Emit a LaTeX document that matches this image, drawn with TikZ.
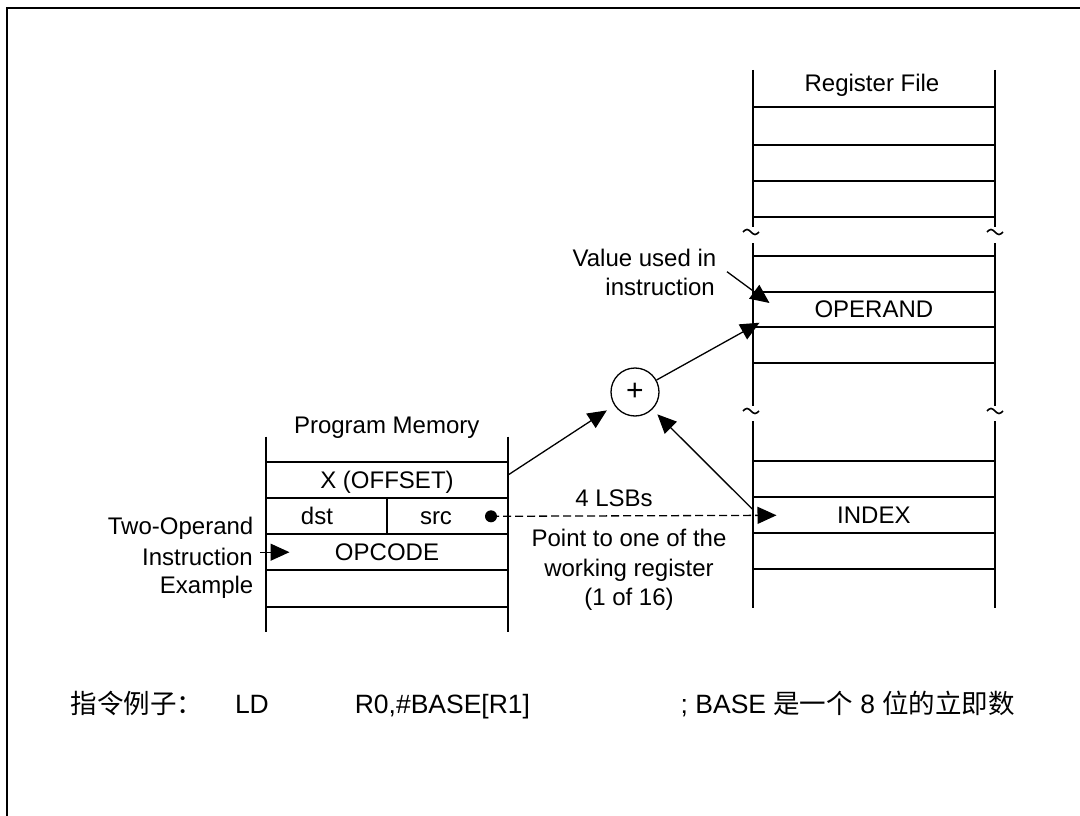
\documentclass[tikz,border=0pt]{standalone}
\usepackage{fontspec}
\setmainfont{Liberation Sans}
\newfontfamily\cjk{Noto Sans CJK SC}
\usetikzlibrary{arrows.meta}
\begin{document}
\begin{tikzpicture}[x=1pt,y=-1pt,
  tbl/.style={line width=2pt},
  conn/.style={line width=1.3pt},
  lbl/.style={font=\fontsize{24}{28}\selectfont, inner sep=0pt},
  cell/.style={lbl, minimum height=36pt, text height=17pt, text depth=0pt},
  arr/.style={-{Triangle[length=19pt,width=17pt]}},
  btm/.style={anchor=base west, inner sep=0pt, font=\fontsize{26.5}{30}\selectfont},
  ]
\useasboundingbox (0,0) rectangle (1080,816);
\fill[white] (0,0) rectangle (1080,816);
\draw[line width=2.7pt] (7,817) -- (7,8) -- (1081,8);

% Register file
\draw[tbl] (752.7,70) -- (752.7,226.7) (995,70) -- (995,226.7);
\foreach \yy in {106.7,145,181,217.3} \draw[tbl] (752.7,\yy) -- (995,\yy);
\draw[tbl] (752.7,243) -- (752.7,406) (995,243) -- (995,406);
\foreach \yy in {255.7,291.7,326.7,362.7} \draw[tbl] (752.7,\yy) -- (995,\yy);
\draw[tbl] (752.7,421) -- (752.7,608) (995,421) -- (995,608);
\foreach \yy in {461,497.3,533.3,569.3} \draw[tbl] (752.7,\yy) -- (995,\yy);
\foreach \xx/\yy in {751/232,995/232,751/411,995/411}
  \draw[line width=1.6pt] (\xx-8,\yy) sin (\xx-4,\yy-2.5) cos (\xx,\yy) sin (\xx+4,\yy+2.5) cos (\xx+8,\yy);

% Program memory
\draw[tbl] (265.7,436.7) -- (265.7,631.7) (508.3,436.7) -- (508.3,631.7);
\foreach \yy in {461.7,497.7,534.3,570,607.3} \draw[tbl] (265.7,\yy) -- (508.3,\yy);
\draw[tbl] (386.7,497.7) -- (386.7,534.3);

% labels
\node[lbl, anchor=base] (rftitle) at (872,91.7) {Register File};
\node[cell, minimum width=242.3pt] (operand) at (873.85,309.2) {OPERAND};
\node[cell, minimum width=242.3pt] (index) at (873.85,515.3) {INDEX};
\node[lbl, anchor=base] (pmtitle) at (386.7,433.3) {Program Memory};
\node[cell, minimum width=242.6pt] (xoff) at (387,479.7) {X (OFFSET)};
\node[cell] (dst) at (317,516) {dst};
\node[cell] (src) at (436,516) {src};
\node[cell, minimum width=242.6pt] (opcode) at (387,552.2) {OPCODE};

\node[lbl, anchor=base east] (two1) at (253.5,534.3) {Two-Operand};
\node[lbl, anchor=base east] (two2) at (253,565) {Instruction};
\node[lbl, anchor=base east] (two3) at (253.5,593.3) {Example};

\node[lbl, anchor=base east] (val1) at (716.5,266.7) {Value used in};
\node[lbl, anchor=base east] (val2) at (715,295) {instruction};

\node[lbl, anchor=base] (lsb) at (614,506.7) {4 LSBs};
\node[lbl, anchor=base] (pt1) at (629,546.7) {Point to one of the};
\node[lbl, anchor=base] (pt2) at (629,576.7) {working register};
\node[lbl, anchor=base] (pt3) at (629,605) {(1 of 16)};

\node[circle, draw, line width=1.3pt, minimum size=48pt, inner sep=0pt,
      font=\fontsize{30}{30}\selectfont] (plus) at (635,392) {+};

% connectors
\coordinate (dot) at (491,516.3);
\coordinate (twostart) at (260,552.2);
\fill (dot) circle (6pt);
\draw[conn, arr, shorten >=9pt] ([yshift=5pt]xoff.east) -- (plus);
\draw[conn, arr, shorten >=7pt] ([yshift=6pt]index.west) -- (plus);
\draw[conn, arr] (plus) -- ([xshift=7pt,yshift=4.7pt]operand.south west);
\draw[conn, arr] ([xshift=10.5pt,yshift=-5pt]val1.base east) -- ([xshift=17pt,yshift=-12pt]operand.north west);
\draw[conn, arr, dash pattern=on 8pt off 4pt] (dot) -- ([xshift=24pt]index.west);
\draw[conn, arr] (twostart) -- ([xshift=24pt]opcode.west);

% bottom text
\node[btm, font=\fontsize{26.5}{30}\selectfont\cjk] (ex1) at (70.7,713.3) {指令例子：};
\node[btm] (ex2) at (234.8,713.3) {LD};
\node[btm] (ex3) at (354.6,713.3) {R0,\#BASE[R1]};
\node[btm] (ex4) at (680.5,713.3) {; BASE {\cjk 是一个} 8 {\cjk 位的立即数}};
\end{tikzpicture}
\end{document}
